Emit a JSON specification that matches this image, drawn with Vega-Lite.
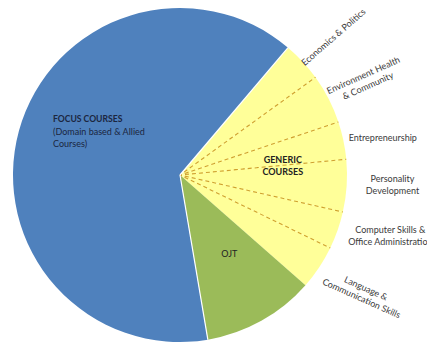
{
  "$schema": "https://vega.github.io/schema/vega-lite/v6.json",
  "autosize": {"type": "none"},
  "width": 360,
  "height": 336,
  "padding": {"left": 0, "top": 7, "right": 67, "bottom": 0},
  "background": "white",
  "view": {"stroke": null},
  "data": {
    "values": [
      {"idx": 1, "name": "Economics & Politics", "group": "Generic", "value": 13.9, "label": "Economics & Politics", "inner": "", "sub": ""},
      {"idx": 2, "name": "Environment Health & Community", "group": "Generic", "value": 17.3, "label": "Environment Health\n& Community", "inner": "", "sub": ""},
      {"idx": 3, "name": "Entrepreneurship", "group": "Generic", "value": 13.1, "label": "Entrepreneurship", "inner": "GENERIC\nCOURSES", "sub": ""},
      {"idx": 4, "name": "Personality Development", "group": "Generic", "value": 18.2, "label": "Personality\nDevelopment", "inner": "", "sub": ""},
      {"idx": 5, "name": "Computer Skills & Office Administration", "group": "Generic", "value": 13.1, "label": "Computer Skills &\nOffice Administration", "inner": "", "sub": ""},
      {"idx": 6, "name": "Language & Communication Skills", "group": "Generic", "value": 15.4, "label": "Language &\nCommunication Skills", "inner": "", "sub": ""},
      {"idx": 7, "name": "OJT", "group": "OJT", "value": 39.1, "label": "", "inner": "OJT", "sub": ""},
      {"idx": 8, "name": "Focus Courses", "group": "Focus", "value": 229.9, "label": "", "inner": "FOCUS COURSES", "sub": "(Domain based & Allied\nCourses)"}
    ]
  },
  "encoding": {
    "theta": {"field": "value", "type": "quantitative", "stack": true, "scale": {"domain": [0, 360], "range": [0.7034, 6.9866]}},
    "order": {"field": "idx", "type": "quantitative"},
    "detail": {"field": "name", "type": "nominal"}
  },
  "layer": [
    {
      "mark": {"type": "arc", "radius": 167},
      "encoding": {
        "color": {"field": "group", "type": "nominal", "legend": null,
          "scale": {"domain": ["Focus", "OJT", "Generic"], "range": ["#4F81BD", "#9BBB59", "#FFFF99"]}}
      }
    },
    {
      "transform": [
        {"stack": "value", "groupby": [], "sort": [{"field": "idx", "order": "ascending"}], "as": ["v0", "v1"]},
        {"filter": "datum.idx >= 2 && datum.idx <= 6"}
      ],
      "mark": {"type": "arc", "radius": 167, "filled": false, "stroke": "#CFA02E", "strokeWidth": 1.1, "strokeDash": [4, 3], "strokeDashOffset": 3},
      "encoding": {
        "theta": {"field": "v0", "type": "quantitative", "stack": null},
        "theta2": {"field": "v0"}
      }
    },
    {
      "transform": [
        {"stack": "value", "groupby": [], "sort": [{"field": "idx", "order": "ascending"}], "as": ["v0", "v1"]},
        {"filter": "datum.idx === 8 || datum.idx === 1"}
      ],
      "mark": {"type": "arc", "radius": 167, "filled": false, "stroke": "white", "strokeWidth": 1.2},
      "encoding": {
        "theta": {"field": "v0", "type": "quantitative", "stack": null},
        "theta2": {"field": "v0"}
      }
    },
    {
      "mark": {"type": "text", "radius": 206.4, "dx": 0, "dy": 3, "angle": -41, "font": "Lato", "fontSize": 9, "fill": "#3a3a3a", "lineBreak": "\n"},
      "encoding": {"text": {"condition": {"test": "datum.idx === 1", "field": "label"}, "value": ""}}
    },
    {
      "mark": {"type": "text", "radius": 208.4, "dx": 0, "dy": -5, "angle": -24, "font": "Lato", "fontSize": 9, "fill": "#3a3a3a", "lineBreak": "\n", "lineHeight": 11.5},
      "encoding": {"text": {"condition": {"test": "datum.idx === 2", "field": "label"}, "value": ""}}
    },
    {
      "mark": {"type": "text", "radius": 206.3, "dx": 1, "dy": 6, "font": "Lato", "fontSize": 9, "fill": "#3a3a3a", "lineBreak": "\n"},
      "encoding": {"text": {"condition": {"test": "datum.idx === 3", "field": "label"}, "value": ""}}
    },
    {
      "mark": {"type": "text", "radius": 212.9, "dx": 0, "dy": -10, "font": "Lato", "fontSize": 9, "fill": "#3a3a3a", "lineBreak": "\n", "lineHeight": 12.3},
      "encoding": {"text": {"condition": {"test": "datum.idx === 4", "field": "label"}, "value": ""}}
    },
    {
      "mark": {"type": "text", "radius": 218.7, "dx": 4, "dy": -17.5, "font": "Lato", "fontSize": 9, "fill": "#3a3a3a", "lineBreak": "\n", "lineHeight": 11.7},
      "encoding": {"text": {"condition": {"test": "datum.idx === 5", "field": "label"}, "value": ""}}
    },
    {
      "mark": {"type": "text", "radius": 219.1, "dx": 0, "dy": -8.5, "angle": 24, "font": "Lato", "fontSize": 9, "fill": "#3a3a3a", "lineBreak": "\n", "lineHeight": 11},
      "encoding": {"text": {"condition": {"test": "datum.idx === 6", "field": "label"}, "value": ""}}
    },
    {
      "mark": {"type": "text", "radius": 103, "dx": 2, "dy": 6, "font": "Lato", "fontSize": 9, "fontWeight": "bold", "fill": "#222222", "lineBreak": "\n", "lineHeight": 12},
      "encoding": {"text": {"condition": {"test": "datum.idx === 3", "field": "inner"}, "value": ""}}
    },
    {
      "mark": {"type": "text", "radius": 93, "dx": 4, "dy": -2, "font": "Lato", "fontSize": 9, "fill": "#222222"},
      "encoding": {"text": {"condition": {"test": "datum.idx === 7", "field": "inner"}, "value": ""}}
    },
    {
      "mark": {"type": "text", "radius": 134.2, "dx": 2.4, "dy": -20.3, "align": "left", "font": "Lato", "fontSize": 8.6, "fontWeight": "bold", "fill": "#1B2640"},
      "encoding": {"text": {"condition": {"test": "datum.idx === 8", "field": "inner"}, "value": ""}}
    },
    {
      "mark": {"type": "text", "radius": 134.2, "dx": 2.4, "dy": -7.9, "align": "left", "font": "Lato", "fontSize": 9, "fill": "#1B2640", "lineBreak": "\n", "lineHeight": 12.4},
      "encoding": {"text": {"condition": {"test": "datum.idx === 8", "field": "sub"}, "value": ""}}
    }
  ]
}
